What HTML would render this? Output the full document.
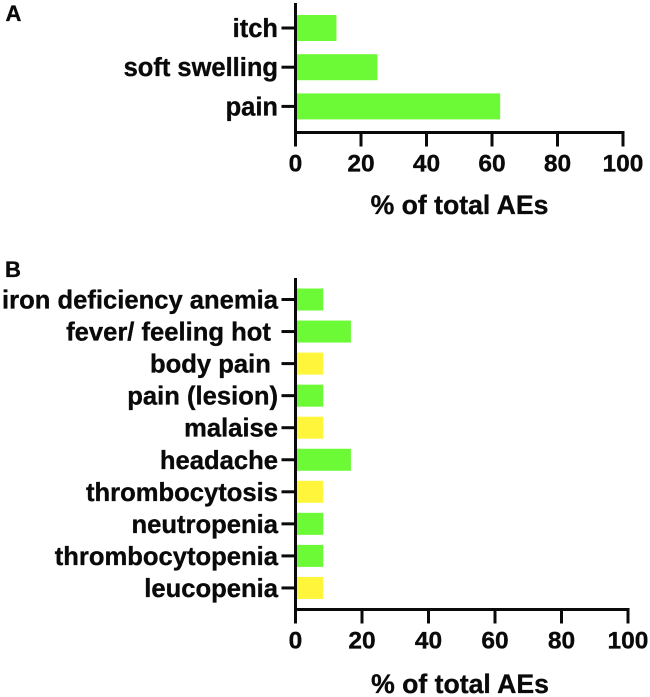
<!DOCTYPE html>
<html lang="en">
<head>
<meta charset="utf-8">
<title>Adverse events chart</title>
<style>
html,body{margin:0;padding:0;background:#fff}
svg{display:block}
text{font-family:"Liberation Sans",sans-serif;font-weight:bold;fill:#0a0a0a;stroke:#0a0a0a;stroke-width:0.35px;white-space:pre}
</style>
</head>
<body>
<svg id="chart" width="650" height="697" viewBox="0 0 650 697" xmlns="http://www.w3.org/2000/svg">
<rect width="650" height="697" fill="#ffffff"/>
<text x="5.5" y="21" font-size="22">A</text>
<text x="5" y="277" font-size="22">B</text>
<text x="459.5" y="214" font-size="26.6" text-anchor="middle">% of total AEs</text>
<text x="460" y="693" font-size="26.6" text-anchor="middle">% of total AEs</text>
</svg>
<script>
var xTicks = [0, 20, 40, 60, 80, 100];
var categoriesA = ["itch", "soft swelling", "pain"];
var valuesA = [12.5, 25, 62.5];
var seriesA = ["green", "green", "green"];
var categoriesB = ["iron deficiency anemia", "fever/ feeling hot ", "body pain ", "pain (lesion)", "malaise", "headache", "thrombocytosis", "neutropenia", "thrombocytopenia", "leucopenia"];
var valuesB = [8.33, 16.67, 8.33, 8.33, 8.33, 16.67, 8.33, 8.33, 8.33, 8.33];
var seriesB = ["green", "green", "yellow", "green", "yellow", "green", "yellow", "green", "green", "yellow"];

var svg = document.getElementById('chart');
var palette = {green: '#6cfa37', yellow: '#fff53a'};

function make(tag, attrs, parent) {
  var el = document.createElementNS('http://www.w3.org/2000/svg', tag);
  for (var k in attrs) el.setAttribute(k, attrs[k]);
  parent.appendChild(el);
  return el;
}

function drawPanel(prefix, categories, values, series, cfg) {
  var g = make('g', {}, svg);
  
  
  function xScale(v) { return cfg.x0 + (v / 100) * (cfg.x100 - cfg.x0); }
  function yScale(i) { return cfg.yFirst + i * cfg.step; }

  categories.forEach(function (cat, i) {
    var bar = make('rect', {
      x: cfg.x0 + 1.5,
      y: yScale(i) - cfg.barH / 2,
      width: Math.max(0, xScale(values[i]) - cfg.x0 - 1.5),
      height: cfg.barH,
      fill: palette[series[i]]
    }, g);
    
    

    var tick = make('line', {
      x1: cfg.x0 - 14, x2: cfg.x0,
      y1: yScale(i), y2: yScale(i),
      stroke: '#0a0a0a', 'stroke-width': 3
    }, g);
    
    

    var label = make('text', {
      x: 278,
      y: yScale(i) + 9,
      'font-size': cfg.labelSize,
      'text-anchor': 'end'
    }, g);
    
    
    label.textContent = cat;
  });

  var yAxis = make('line', {
    x1: cfg.x0, x2: cfg.x0,
    y1: cfg.axisTop, y2: cfg.axisY + 14,
    stroke: '#0a0a0a', 'stroke-width': 3
  }, g);
  
  

  var xAxis = make('line', {
    x1: cfg.x0, x2: cfg.x100 + 1.5,
    y1: cfg.axisY, y2: cfg.axisY,
    stroke: '#0a0a0a', 'stroke-width': 3
  }, g);
  
  

  xTicks.forEach(function (t) {
    var tk = make('line', {
      x1: xScale(t), x2: xScale(t),
      y1: cfg.axisY, y2: cfg.axisY + 14,
      stroke: '#0a0a0a', 'stroke-width': 3
    }, g);
    
    

    var tl = make('text', {
      x: xScale(t),
      y: cfg.axisY + 39,
      'font-size': 24.5,
      'text-anchor': 'middle'
    }, g);
    
    
    tl.textContent = t;
  });
}

drawPanel('panel-a', categoriesA, valuesA, seriesA, {
  x0: 295.5, x100: 623, yFirst: 28, step: 39.2, barH: 26,
  axisTop: 3, axisY: 132.5, labelSize: 25.5
});
drawPanel('panel-b', categoriesB, valuesB, seriesB, {
  x0: 295.5, x100: 628, yFirst: 299.5, step: 32.05, barH: 22,
  axisTop: 278, axisY: 609.5, labelSize: 25.6
});
</script>
</body>
</html>
